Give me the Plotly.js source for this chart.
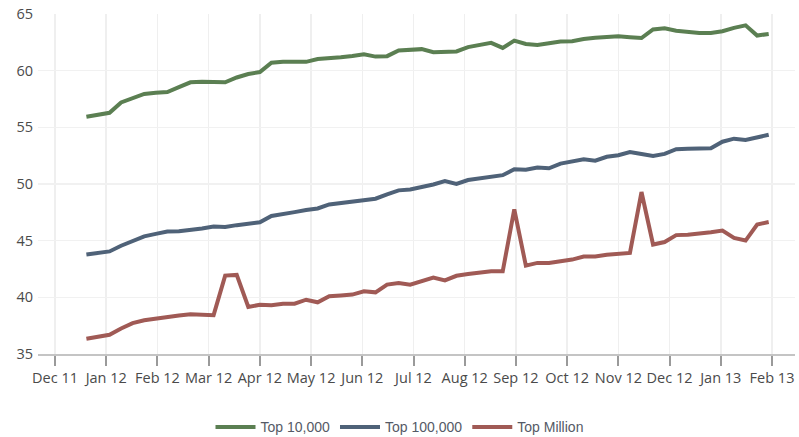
<!DOCTYPE html>
<html>
<head>
<meta charset="utf-8">
<script src="https://cdn.plot.ly/plotly-3.0.1.min.js"></script>
<style>
html,body{margin:0;padding:0;background:#fff;}
#chart{width:799px;height:437px;}
</style>
</head>
<body>
<div id="chart"></div>
<script>
// Weekly measurement dates
var dates = [
 "2011-12-20","2011-12-27",
 "2012-01-03","2012-01-10","2012-01-17","2012-01-24","2012-01-31",
 "2012-02-07","2012-02-14","2012-02-21","2012-02-28",
 "2012-03-06","2012-03-13","2012-03-20","2012-03-27",
 "2012-04-03","2012-04-10","2012-04-17","2012-04-24",
 "2012-05-01","2012-05-08","2012-05-15","2012-05-22","2012-05-29",
 "2012-06-05","2012-06-12","2012-06-19","2012-06-26",
 "2012-07-03","2012-07-10","2012-07-17","2012-07-24","2012-07-31",
 "2012-08-07","2012-08-14","2012-08-21","2012-08-28",
 "2012-09-04","2012-09-11","2012-09-18","2012-09-25",
 "2012-10-02","2012-10-09","2012-10-16","2012-10-23","2012-10-30",
 "2012-11-06","2012-11-13","2012-11-20","2012-11-27",
 "2012-12-04","2012-12-11","2012-12-18","2012-12-25",
 "2013-01-01","2013-01-08","2013-01-15","2013-01-22","2013-01-29",
 "2013-02-05"
];

var top10k = [
 55.93,56.10,56.28,57.20,57.60,57.95,58.05,58.12,58.55,58.97,
 59.02,59.00,58.97,59.40,59.70,59.88,60.70,60.79,60.77,60.78,
 61.03,61.08,61.18,61.30,61.45,61.24,61.28,61.78,61.87,61.90,
 61.63,61.65,61.70,62.08,62.30,62.45,62.01,62.65,62.35,62.27,
 62.42,62.57,62.60,62.80,62.90,63.00,63.03,62.95,62.88,63.64,
 63.74,63.53,63.41,63.33,63.33,63.48,63.78,64.00,63.10,63.24
];

var top100k = [
 43.78,43.91,44.05,44.55,45.00,45.38,45.60,45.80,45.84,45.92,
 46.07,46.24,46.20,46.37,46.50,46.62,47.18,47.39,47.52,47.70,
 47.84,48.20,48.32,48.45,48.58,48.70,49.09,49.44,49.52,49.72,
 49.96,50.25,50.00,50.35,50.52,50.66,50.78,51.30,51.25,51.45,
 51.39,51.80,52.00,52.18,52.06,52.40,52.54,52.82,52.64,52.48,
 52.66,53.07,53.10,53.14,53.16,53.73,54.00,53.88,54.10,54.34
];

var topMillion = [
 36.35,36.52,36.70,37.25,37.72,37.98,38.14,38.28,38.40,38.50,
 38.50,38.43,41.92,41.98,39.15,39.35,39.30,39.43,39.44,39.79,
 39.56,40.09,40.17,40.24,40.53,40.44,41.12,41.27,41.12,41.45,
 41.75,41.50,41.90,42.06,42.20,42.30,42.30,47.76,42.80,43.04,
 43.04,43.20,43.33,43.60,43.60,43.75,43.85,43.92,49.29,44.66,
 44.88,45.49,45.52,45.60,45.75,45.90,45.25,45.01,46.43,46.64
];

var seriesNames = ["Top 10,000","Top 100,000","Top Million"];
var seriesColors = ["#5b7f52","#4f6278","#a05a55"];

// x-axis tick labels (one every 31 days, as in the source chart)
var tickLabels = ["Dec 11","Jan 12","Feb 12","Mar 12","Apr 12","May 12","Jun 12",
  "Jul 12","Aug 12","Sep 12","Oct 12","Nov 12","Dec 12","Jan 13","Feb 13"];
var yTicks = [35,40,45,50,55,60,65];

function isoPlusDays(iso, days){
  var d = new Date(iso + "T00:00:00Z");
  d.setUTCDate(d.getUTCDate() + days);
  return d.toISOString().slice(0,10);
}
var tickVals = tickLabels.map(function(_, i){ return isoPlusDays("2011-12-01", 31*i); });

var values = [top10k, top100k, topMillion];
var traces = values.map(function(v, i){
  return {
    type: "scatter", mode: "lines",
    x: dates, y: v, name: seriesNames[i],
    line: {color: seriesColors[i], width: 4}
  };
});

var layout = {
  width: 799, height: 437,
  margin: {l: 38, r: 4, t: 14, b: 83},
  paper_bgcolor: "#ffffff", plot_bgcolor: "#ffffff",
  font: {family: "Open Sans, Arial, sans-serif", size: 14, color: "#4a4a4a"},
  showlegend: true,
  legend: {
    orientation: "h", xref: "container", yref: "container",
    x: 0.5, xanchor: "center", y: 0.022, yanchor: "middle",
    font: {family: "Liberation Sans, Arial, sans-serif", size: 14, color: "#555a66"},
    itemwidth: 40, traceorder: "normal"
  },
  xaxis: {
    type: "date",
    range: ["2011-11-20 17:00", "2013-02-20 22:00"],
    tickmode: "array", tickvals: tickVals, ticktext: tickLabels,
    ticks: "outside", ticklen: 10, tickwidth: 2, tickcolor: "#9a9a9a",
    showgrid: true, gridcolor: "#efefef", gridwidth: 1.5,
    showline: true, linecolor: "#c4c4c4", linewidth: 2,
    zeroline: false,
    tickfont: {family: "Open Sans, Arial, sans-serif", size: 14.5, color: "#4a4a4a"}
  },
  yaxis: {
    range: [35, 65],
    tickmode: "array", tickvals: yTicks,
    ticks: "", showline: false, zeroline: false,
    showgrid: true, gridcolor: "#f1f1f1", gridwidth: 1.5,
    ticklabelstandoff: 4,
    tickfont: {family: "Open Sans, Arial, sans-serif", size: 14.5, color: "#4a4a4a"}
  }
};

Plotly.newPlot("chart", traces, layout, {staticPlot: true, displayModeBar: false});
</script>
</body>
</html>
